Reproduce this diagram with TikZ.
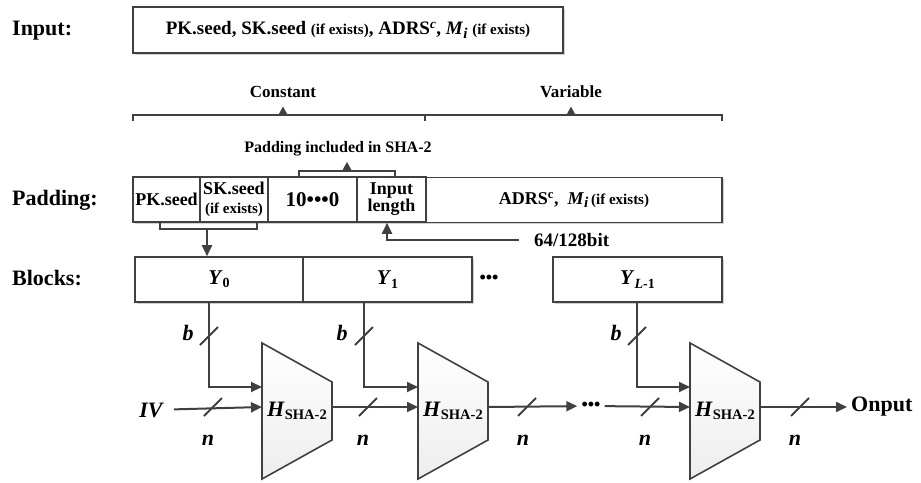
\documentclass[tikz,border=0pt]{standalone}
\usepackage{fontspec}
\setmainfont{Liberation Serif}
\usetikzlibrary{arrows.meta, shadows}

\definecolor{inkgray}{HTML}{404040}
\newcommand\lowsub[2]{\raisebox{-0.35ex}{\fontsize{#1}{#1}\selectfont #2}}

\begin{document}
\begin{tikzpicture}[x=1pt, y=-1pt,
						box/.style={draw=inkgray, fill=white, line width=1.6pt, inner sep=0pt, minimum height=45pt, drop shadow={shadow xshift=1.5pt, shadow yshift=-1.5pt, fill=gray!60, opacity=0.6}},
						cell/.style={box, align=center, font=\fontsize{18}{17}\selectfont\bfseries},
						blk/.style={box, minimum width=169pt, font=\fontsize{21}{21}\selectfont\bfseries},
						wire/.style={draw=inkgray, line width=2pt},
						arrow/.style={wire, -{Triangle[length=11pt, width=10pt]}},
						uparrow/.style={wire, -{Triangle[length=9pt, width=9pt]}, shorten >=8pt},
						mux/.style={draw=inkgray, line width=1.6pt, top color=white, bottom color=gray!14},
						side/.style={anchor=west, inner sep=0pt, font=\fontsize{22}{22}\selectfont\bfseries},
						note/.style={anchor=base, inner sep=1pt, font=\fontsize{17}{17}\selectfont\bfseries},
						var/.style={inner sep=1pt, font=\fontsize{22}{22}\selectfont\bfseries\itshape},
						hash/.style={inner sep=0pt, font=\fontsize{22}{22}\selectfont\bfseries}
					]
					\useasboundingbox (0,0) rectangle (921,482);

					\node[side] (inlbl) at (12,31) {Input:};
					\node[side] (padlbl) at (12,200) {Padding:};
					\node[side] (blklbl) at (12,278) {Blocks:};

					\node[box, minimum width=430pt, minimum height=46pt, font=\fontsize{19}{19}\selectfont\bfseries] (input) at (348,30) {PK.seed, SK.seed {\fontsize{15}{15}\selectfont(if exists)}, ADRS\textsuperscript{\itshape c}, \textit{M}\lowsub{15}{\itshape i} {\fontsize{15}{15}\selectfont(if exists)}};

					% constant / variable split
					\node[note] (const) at (283,97) {Constant};
					\node[note] (vari) at (571,97) {Variable};
					\draw[wire] (133,121) -- (133,115) -- (722,115) -- (722,121);
					\draw[wire] (425,115) -- (425,121);
					\coordinate (cbr) at (283,115);
					\coordinate (vbr) at (571,115);
					\draw[uparrow] (cbr) -- (const);
					\draw[uparrow] (vbr) -- (vari);

					% padding row
					\node[cell, minimum width=67pt] (pk) at (166.5,199.5) {PK.seed};
					\node[cell, minimum width=68pt] (sk) at (234,199.5) {SK.seed\\[2pt]{\fontsize{15}{15}\selectfont(if exists)}};
					\node[cell, minimum width=89pt, font=\fontsize{21}{21}\selectfont\bfseries] (zeros) at (312.5,199.5) {10•••0};
					\node[cell, minimum width=69pt] (len) at (391.5,199.5) {Input\\length};
					\node[cell, minimum width=296pt] (adrs) at (574,200) {ADRS\textsuperscript{c}, \ \textit{M}\lowsub{15}{\itshape i}\,{\fontsize{15}{15}\selectfont(if exists)}};

					\node[note, font=\fontsize{16}{16}\selectfont\bfseries] (incl) at (338,152) {Padding included in SHA-2};
					\draw[wire] (299,177) -- (299,171) -- (395,171) -- (395,177);
					\coordinate (ibr) at (347,171);
					\draw[uparrow, shorten >=5pt] (ibr) -- (ibr |- incl.south);

					% blocks
					\node[blk, minimum width=168pt] (y0) at (219,279.5) {\raisebox{-6pt}{\textit{Y}\lowsub{14}{0}}};
					\node[blk] (y1) at (387.5,279.5) {\raisebox{-6pt}{\textit{Y}\lowsub{14}{1}}};
					\node[inner sep=2pt, font=\fontsize{18}{18}\selectfont\bfseries] (bdots) at (489,279) {•••};
					\node[blk] (yl) at (637.5,279.5) {\raisebox{-6pt}{\textit{Y}\lowsub{14}{\textit{L}-1}}};

					\draw[wire] (160,222) -- (160,229) -- (257,229) -- (257,222);
					\coordinate (kbr) at (207,229);
					\draw[arrow] (kbr) -- (kbr |- y0.north);

					\node[note, anchor=west, font=\fontsize{19}{19}\selectfont\bfseries] (bits) at (533,240) {64/128bit};
					\draw[arrow] ([xshift=-14pt]bits.west) -| ([xshift=-4.5pt]len.south);

					% compression stages
					\foreach \k/\xl in {1/262, 2/418, 3/690} {
						\draw[mux] (\xl,343) -- (\xl+70,382) -- (\xl+70,440) -- (\xl,479) -- cycle;
						\node[hash] (h\k) at (\xl+35,411) {\textit{H}\lowsub{14.5}{SHA-2}};
						\coordinate (h\k-b) at (\xl,387);
						\coordinate (h\k-a) at (\xl,407);
						\coordinate (h\k-o) at (\xl+70,407);
					}

					\draw[arrow] ([xshift=-10pt]y0.south) |- (h1-b);
					\draw[arrow] ([xshift=-23.5pt]y1.south) |- (h2-b);
					\draw[arrow] ([xshift=-0.5pt]yl.south) |- (h3-b);

					\node[var, inner xsep=11pt] (iv) at (151,410) {IV};
					\node[inner xsep=4pt, inner ysep=1pt, font=\fontsize{18}{18}\selectfont\bfseries] (hdots) at (591,406) {•••};
					\node[var, anchor=west, inner sep=4pt, font=\fontsize{22}{22}\selectfont\bfseries] (out) at (847,407) {Onput};

					\draw[arrow] (iv) -- (h1-a);
					\draw[arrow] (h1-o) -- (h2-a);
					\draw[arrow] (h2-o) -- (hdots);
					\draw[arrow] (hdots) -- (h3-a);
					\draw[arrow] (h3-o) -- (out);

					% bus width marks
					\foreach \cx/\cy in {209/336, 364/336, 637/336, 213/407, 368/407, 527/407, 650/407, 800/407}
						\draw[wire] (\cx-9,\cy+9) -- (\cx+9,\cy-9);

					\foreach \k/\bx in {1/188, 2/342, 3/616}
						\node[var] (b\k) at (\bx,333) {b};
					\foreach \k/\nx in {1/208, 2/363, 3/523, 4/645, 5/795}
						\node[var] (n\k) at (\nx,440) {n};
				\end{tikzpicture}
\end{document}
